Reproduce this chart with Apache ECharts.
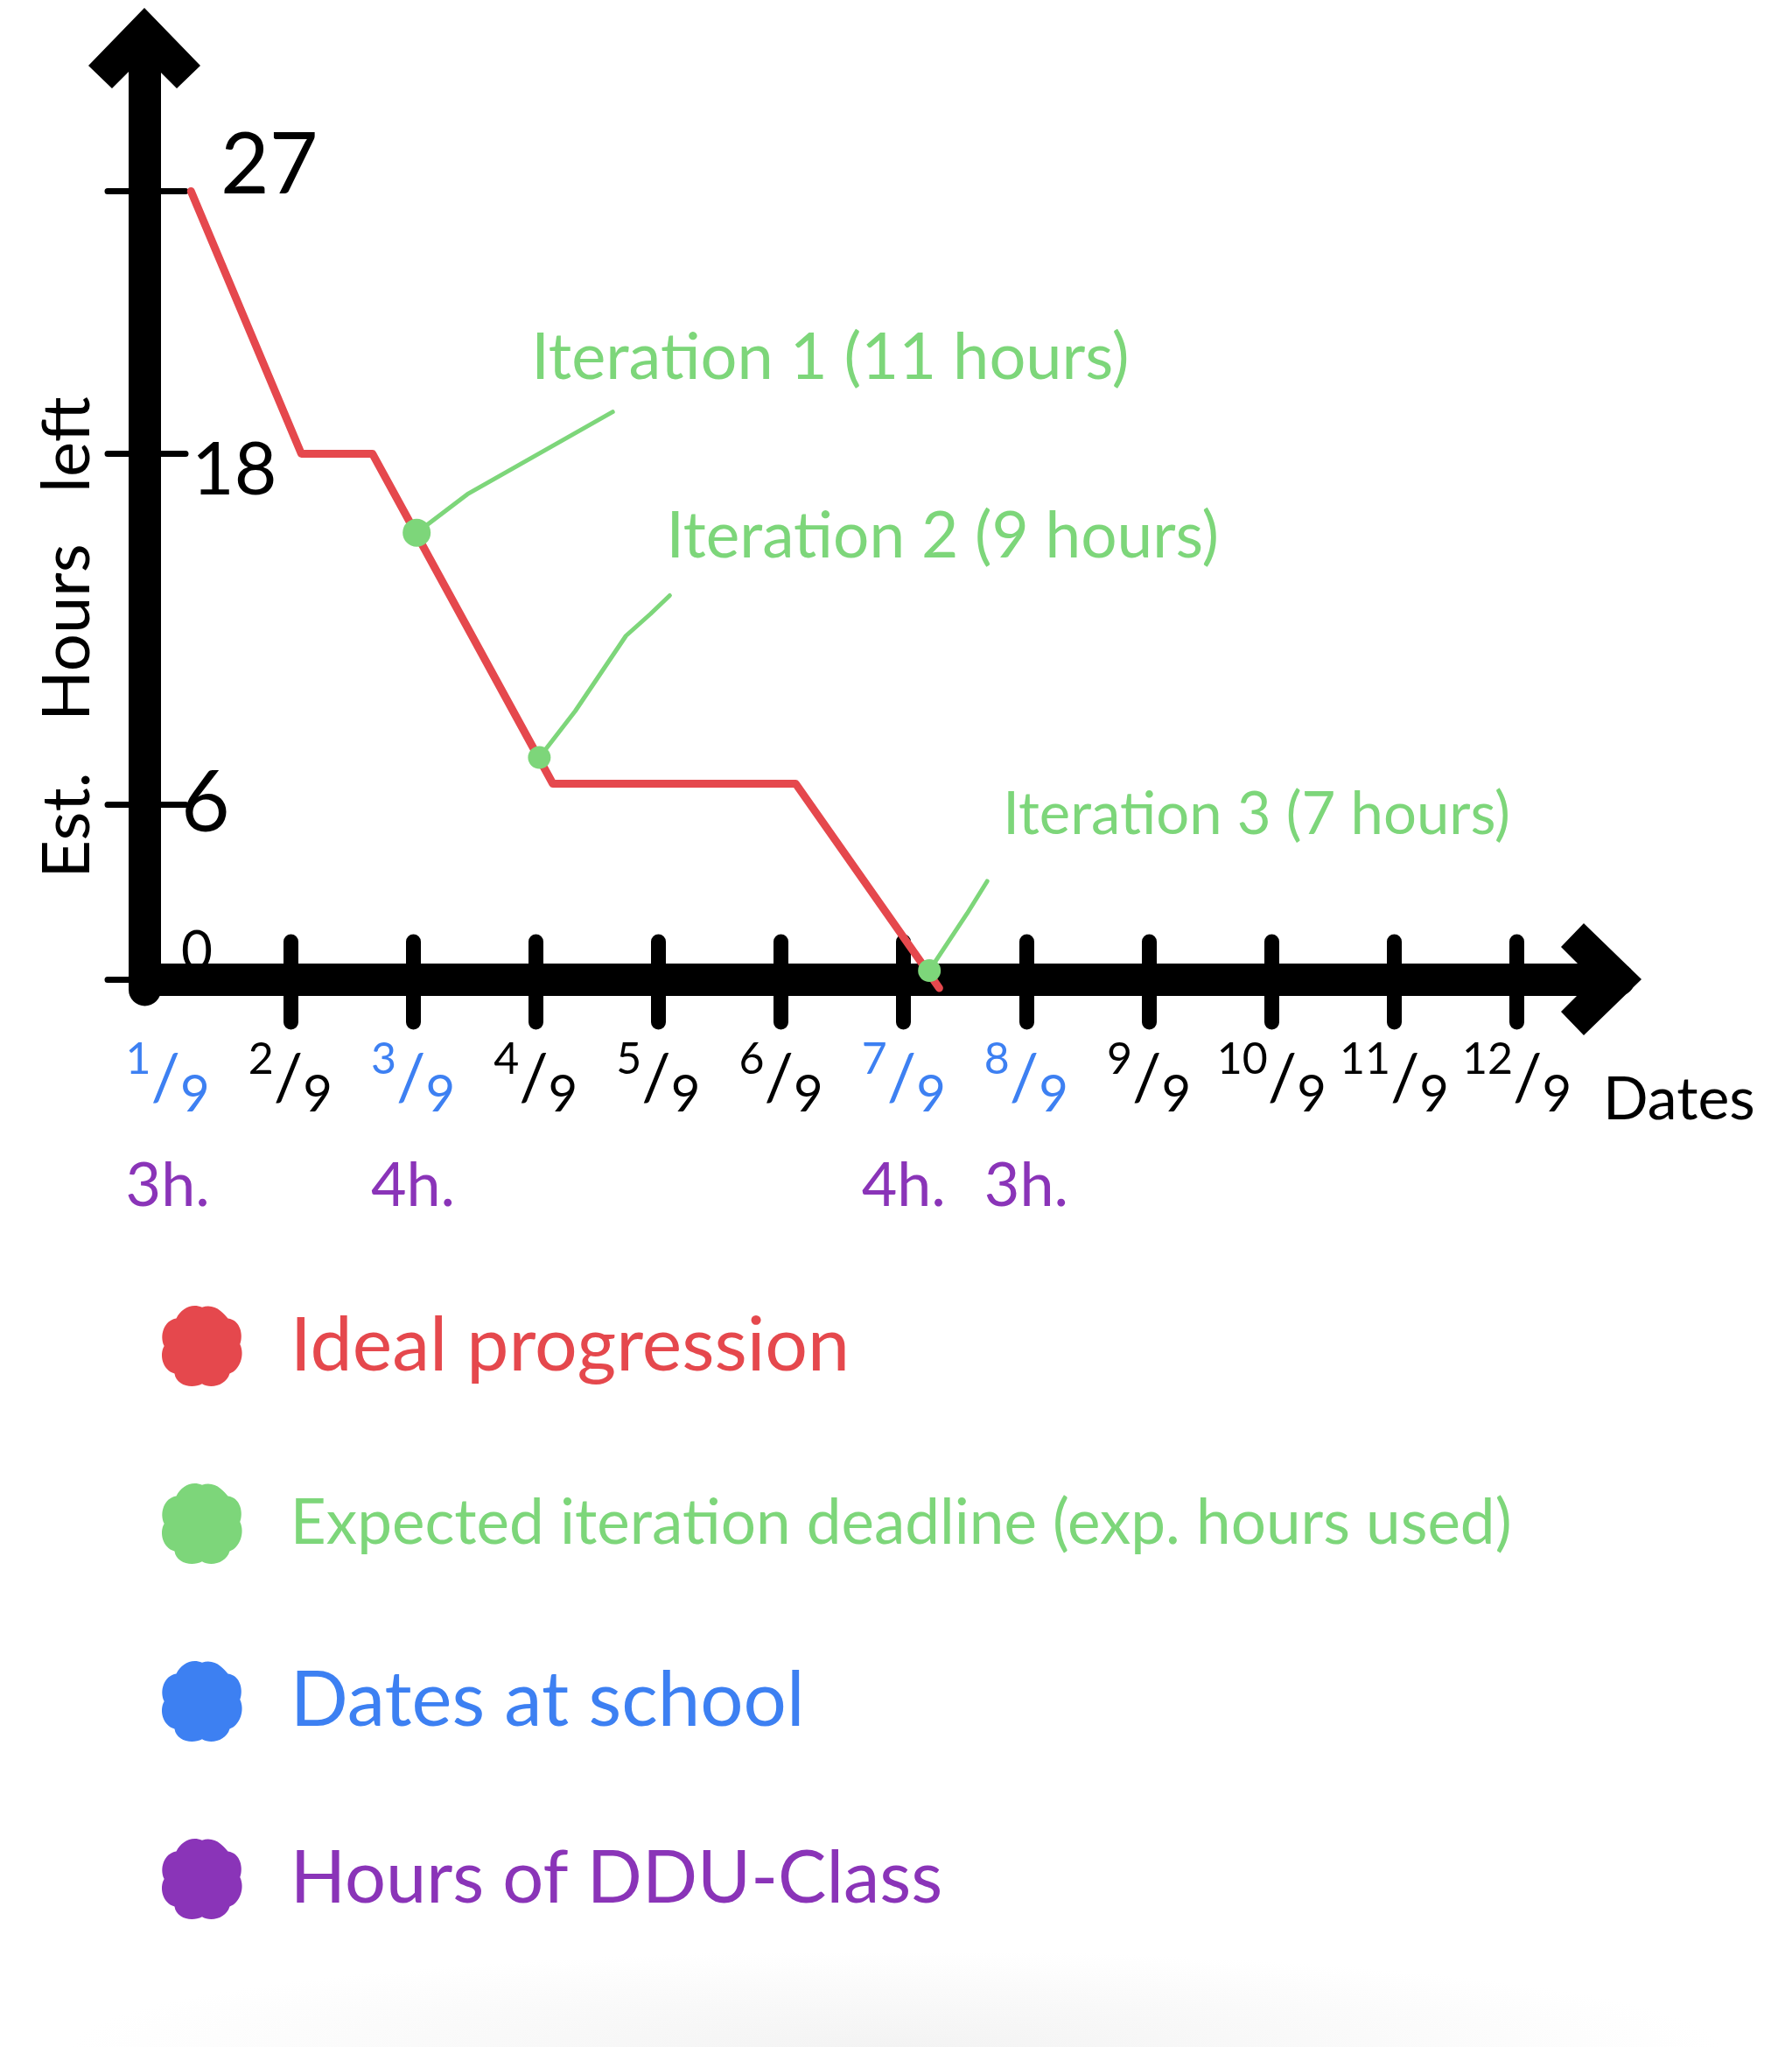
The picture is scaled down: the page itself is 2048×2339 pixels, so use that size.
<!DOCTYPE html>
<html>
<head>
<meta charset="utf-8">
<title>Est. Hours left</title>
<script src="https://cdn.jsdelivr.net/npm/echarts@6/dist/echarts.min.js"></script>
<style>
  html, body {
    margin: 0;
    padding: 0;
    background: #fff radial-gradient(ellipse 46% 110px at 50% 100%, #f3f3f3, #ffffff);
    background-repeat: no-repeat;
  }
  #chart { width: 2048px; height: 2339px; }
</style>
</head>
<body>
<div id="chart"></div>
<script>
// ideal progression: day of september -> estimated hours left
var idealDays  = [1.19, 2.09, 2.67, 4.14, 6.12, 7.29];
var idealHours = [27, 18, 18, 6.7, 6.7, -0.3];

// expected iteration deadlines (sit on the ideal line)
var iterNames = ['Iteration 1 (11 hours)', 'Iteration 2 (9 hours)', 'Iteration 3 (7 hours)'];
var iterDays  = [3.03, 4.03, 7.21];
var iterHours = [15.3, 7.6, 0.3];

// x axis: days of september (no tick drawn at 1/9, it sits on the y axis)
var dateDays   = [1, 2, 3, 4, 5, 6, 7, 8, 9, 10, 11, 12];
var tickDays   = [2, 3, 4, 5, 6, 7, 8, 9, 10, 11, 12];
var schoolDays = [1, 3, 7, 8];

// hours of DDU class on some days
var dduDays  = [1, 3, 7, 8];
var dduHours = [3, 4, 4, 3];

// y axis ticks
var hourTicks = [0, 6, 18, 27];

var RED = '#e5484d';
var GREEN = '#7dd67a';
var BLUE = '#3d80f2';
var PURPLE = '#8a34b8';
var FONT = 'Lato, "Noto Sans", sans-serif';

// open arrow head used on both axes
var CHEVRON = 'path://M64,0 L128,66 L101,92 L64,55 L27,92 L0,66 Z';
var BLOB = 'path://M50,5 C65,0 75,12 80,18 C95,20 98,38 94,48 C100,60 94,78 82,82 C78,96 60,100 50,94 C38,100 20,96 18,82 C4,78 0,60 6,50 C0,38 6,20 20,18 C26,6 38,0 50,5 Z';

// leader lines / label placement of callouts, in pixels from the point
var calloutStyle = [
  { r: 16, size: 74, leader: [[0, 0], [58, -44], [224, -138]], text: [131, -200] },
  { r: 13, size: 73, leader: [[0, 0], [41, -53], [99, -139], [127, -164], [149, -185]], text: [145, -252] },
  { r: 13, size: 67, leader: [[0, 0], [43, -65], [66, -102]], text: [84, -178] }
];

var yLabelRich = {
  v27: { fontSize: 96, padding: [0, 0, 56, 45] },
  v18: { fontSize: 84, padding: [38, 0, 0, 12] },
  v6:  { fontSize: 96, padding: [0, 0, 0, 0] },
  v0:  { fontSize: 62, padding: [0, 0, 62, 0] }
};

function fracStyle(color) {
  return {
    n: { color: color, fontSize: 50, fontFamily: FONT, verticalAlign: 'top' },
    s: { color: color, fontSize: 74, fontFamily: FONT, lineHeight: 94, verticalAlign: 'middle' },
    d: { color: color, fontSize: 58, fontFamily: FONT, verticalAlign: 'bottom' }
  };
}

function xLabelRich() {
  var rich = {};
  var b = fracStyle(BLUE), k = fracStyle('#000');
  for (var key in b) {
    rich['b' + key] = b[key];
    rich['k' + key] = k[key];
  }
  rich.h = { color: PURPLE, fontSize: 70, fontFamily: FONT, lineHeight: 150, verticalAlign: 'middle' };
  return rich;
}

function xLabel(v) {
  var p = schoolDays.indexOf(v) >= 0 ? 'b' : 'k';
  var s = '{' + p + 'n|' + v + '}{' + p + 's|/}{' + p + 'd|9}';
  var i = dduDays.indexOf(v);
  if (i >= 0) s += '\n{h|' + dduHours[i] + 'h.}';
  return s;
}

function renderCallout(params, api) {
  var p = api.coord([api.value(0), api.value(1)]);
  var c = calloutStyle[params.dataIndex];
  var pts = c.leader.map(function (o) { return [p[0] + o[0], p[1] + o[1]]; });
  return {
    type: 'group',
    children: [
      {
        type: 'polyline',
        shape: { points: pts },
        style: { stroke: GREEN, lineWidth: 5, lineCap: 'round', lineJoin: 'round', fill: null }
      },
      {
        type: 'circle',
        shape: { cx: p[0], cy: p[1], r: c.r },
        style: { fill: GREEN }
      },
      {
        type: 'text',
        x: p[0] + c.text[0],
        y: p[1] + c.text[1],
        style: {
          text: iterNames[params.dataIndex],
          fill: GREEN,
          fontSize: c.size,
          fontFamily: FONT,
          align: 'left',
          verticalAlign: 'middle'
        }
      }
    ]
  };
}

var chart = echarts.init(document.getElementById('chart'), null, { renderer: 'canvas' });

var axisBlack = { color: '#000', width: 37, cap: 'round' };

var option = {
  animation: false,
  grid: { left: 165, top: 50, width: 1685, height: 1081, containLabel: false },
  legend: {
    orient: 'vertical',
    left: 180,
    top: 1485,
    itemWidth: 92,
    itemHeight: 92,
    itemGap: 107,
    icon: BLOB,
    selectedMode: false,
    textStyle: { fontFamily: FONT, fontSize: 86, lineHeight: 96, padding: [0, 0, 0, 50] },
    data: [
      { name: 'Ideal progression', textStyle: { color: RED, fontSize: 86 } },
      { name: 'Expected iteration deadline (exp. hours used)', textStyle: { color: GREEN, fontSize: 71 } },
      { name: 'Dates at school', textStyle: { color: BLUE, fontSize: 87 } },
      { name: 'Hours of DDU-Class', textStyle: { color: PURPLE, fontSize: 83 } }
    ]
  },
  xAxis: [
    {
      type: 'value',
      position: 'bottom',
      min: 0.81,
      max: 12.83,
      name: 'Dates',
      nameLocation: 'end',
      nameGap: -18,
      nameTextStyle: {
        color: '#000', fontFamily: FONT, fontSize: 68,
        align: 'left', verticalAlign: 'top', padding: [104, 0, 0, 0]
      },
      axisLine: {
        show: true,
        lineStyle: axisBlack,
        symbol: ['none', CHEVRON],
        symbolSize: [128, 92],
        symbolOffset: [0, -20]
      },
      axisTick: {
        show: true, inside: false, length: 49,
        customValues: tickDays,
        lineStyle: { color: '#000', width: 17, cap: 'round' }
      },
      axisLabel: {
        show: true,
        margin: 55,
        customValues: dateDays,
        formatter: xLabel,
        rich: xLabelRich()
      },
      splitLine: { show: false }
    },
    {
      type: 'value',
      position: 'bottom',
      min: 0.81,
      max: 12.83,
      axisLine: { show: false },
      axisTick: {
        show: true, inside: true, length: 43,
        customValues: tickDays,
        lineStyle: { color: '#000', width: 17, cap: 'round' }
      },
      axisLabel: { show: false },
      splitLine: { show: false }
    }
  ],
  yAxis: [
    {
      type: 'value',
      position: 'left',
      min: -0.36,
      max: 32.05,
      name: 'Est.   Hours   left',
      nameLocation: 'middle',
      nameRotate: 90,
      nameGap: 50,
      nameTextStyle: {
        color: '#000', fontFamily: FONT, fontSize: 76,
        padding: [0, 276, 0, 0]
      },
      axisLine: {
        show: true,
        lineStyle: axisBlack,
        symbol: ['none', CHEVRON],
        symbolSize: [128, 92],
        symbolOffset: [0, -5]
      },
      axisTick: {
        show: true, inside: false, length: 42,
        customValues: hourTicks,
        lineStyle: { color: '#000', width: 7, cap: 'round' }
      },
      axisLabel: { show: false },
      splitLine: { show: false }
    },
    {
      type: 'value',
      position: 'left',
      min: -0.36,
      max: 32.05,
      axisLine: { show: false },
      axisTick: {
        show: true, inside: true, length: 47,
        customValues: hourTicks,
        lineStyle: { color: '#000', width: 7, cap: 'round' }
      },
      axisLabel: {
        show: true,
        inside: true,
        margin: 42,
        color: '#000',
        fontFamily: FONT,
        customValues: hourTicks,
        formatter: function (v) { return '{v' + v + '|' + v + '}'; },
        rich: yLabelRich
      },
      splitLine: { show: false }
    }
  ],
  series: [
    {
      name: 'Ideal progression',
      type: 'line',
      xAxisIndex: 0,
      yAxisIndex: 0,
      z: 3,
      symbol: 'none',
      itemStyle: { color: RED },
      lineStyle: { color: RED, width: 9, cap: 'round', join: 'round' },
      data: idealDays.map(function (d, i) { return [d, idealHours[i]]; })
    },
    {
      name: 'Expected iteration deadline (exp. hours used)',
      type: 'custom',
      xAxisIndex: 0,
      yAxisIndex: 0,
      z: 4,
      itemStyle: { color: GREEN },
      renderItem: renderCallout,
      data: iterDays.map(function (d, i) { return [d, iterHours[i]]; })
    },
    {
      name: 'Dates at school',
      type: 'scatter',
      itemStyle: { color: BLUE, opacity: 1 },
      data: []
    },
    {
      name: 'Hours of DDU-Class',
      type: 'scatter',
      itemStyle: { color: PURPLE, opacity: 1 },
      data: []
    }
  ]
};

chart.setOption(option);
</script>
</body>
</html>
